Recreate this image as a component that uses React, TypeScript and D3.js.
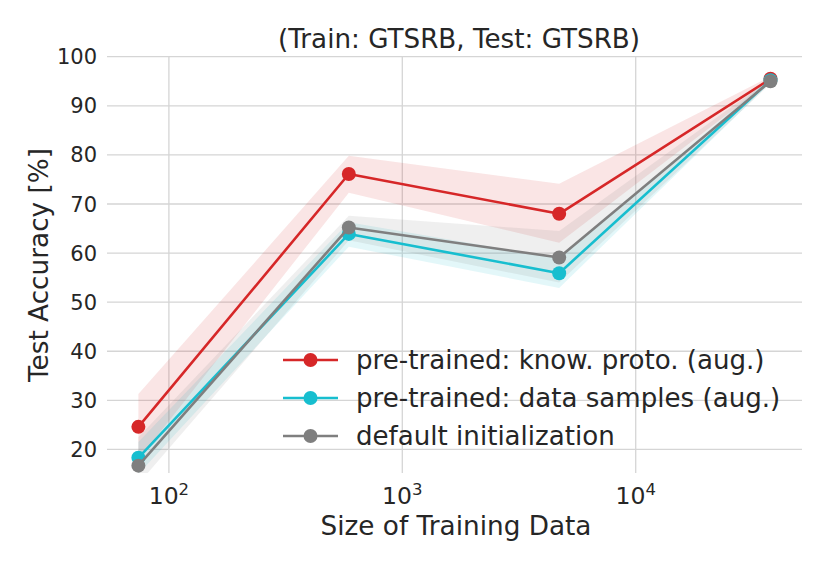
import * as React from 'react';
import { useEffect, useRef } from 'react';
import { select, scaleLog, scaleLinear, line, area } from 'd3';

// training set sizes (log axis)
const sizes = [74, 590, 4700, 37800];

const protoMean = [24.6, 76.1, 68.0, 95.5];
const protoLow = [17.9, 72.3, 62.1, 95.0];
const protoHigh = [31.3, 79.8, 74.1, 96.0];

const samplesMean = [18.3, 63.9, 55.9, 95.2];
const samplesLow = [15.0, 61.3, 52.9, 94.7];
const samplesHigh = [21.5, 66.3, 58.9, 95.7];

const defaultMean = [16.7, 65.2, 59.1, 95.0];
const defaultLow = [13.0, 62.6, 54.0, 94.5];
const defaultHigh = [22.5, 67.6, 64.5, 95.5];

const seriesNames = [
    'pre-trained: know. proto. (aug.)',
    'pre-trained: data samples (aug.)',
    'default initialization',
];
const seriesColors = ['#d62728', '#17becf', '#7f7f7f'];

const yTicks = [20, 30, 40, 50, 60, 70, 80, 90, 100];
const xTickExps = [2, 3, 4];

const W = 830;
const H = 571;
const FONT = 'DejaVu Sans, sans-serif';
const TEXT = '#262626';

export default function App() {
    const ref = useRef<SVGSVGElement>(null);

    useEffect(() => {
        const svg = select(ref.current);
        svg.selectAll('*').remove();

        const left = 107;
        const right = 802;
        const top = 56.7;
        const bottom = 473;

        const x = scaleLog().domain([54.3, 51580]).range([left, right]);
        const y = scaleLinear().domain([15.2, 100]).range([bottom, top]);

        svg.append('defs').append('clipPath').attr('id', 'plot')
            .append('rect')
            .attr('x', left).attr('y', top)
            .attr('width', right - left).attr('height', bottom - top);

        // grid
        const grid = svg.append('g').attr('stroke', '#d5d5d5').attr('stroke-width', 1.3);
        yTicks.forEach((t) => {
            grid.append('line')
                .attr('x1', left).attr('x2', right)
                .attr('y1', y(t)).attr('y2', y(t));
        });
        xTickExps.forEach((e) => {
            const v = Math.pow(10, e);
            grid.append('line')
                .attr('x1', x(v)).attr('x2', x(v))
                .attr('y1', top).attr('y2', bottom);
        });

        // tick labels
        yTicks.forEach((t) => {
            svg.append('text')
                .attr('x', 97)
                .attr('y', y(t))
                .attr('dy', '0.36em')
                .attr('text-anchor', 'end')
                .attr('font-family', FONT)
                .attr('font-size', 21)
                .attr('fill', TEXT)
                .text(String(t));
        });
        xTickExps.forEach((e) => {
            const tx = svg.append('text')
                .attr('x', x(Math.pow(10, e)))
                .attr('y', 504)
                .attr('text-anchor', 'middle')
                .attr('font-family', FONT)
                .attr('font-size', 23.5)
                .attr('fill', TEXT);
            tx.append('tspan').text('10');
            tx.append('tspan').attr('dy', -9).attr('font-size', 16.5).text(String(e));
        });

        const series = [
            { mean: protoMean, low: protoLow, high: protoHigh },
            { mean: samplesMean, low: samplesLow, high: samplesHigh },
            { mean: defaultMean, low: defaultLow, high: defaultHigh },
        ];

        const bands = svg.append('g').attr('clip-path', 'url(#plot)');
        series.forEach((s, k) => {
            const a = area<number>()
                .x((_, i) => x(sizes[i]))
                .y0((_, i) => y(s.low[i]))
                .y1((_, i) => y(s.high[i]));
            bands.append('path')
                .datum(s.mean)
                .attr('fill', seriesColors[k])
                .attr('fill-opacity', 0.12)
                .attr('d', a);
        });

        series.forEach((s, k) => {
            const ln = line<number>()
                .x((_, i) => x(sizes[i]))
                .y((d) => y(d));
            svg.append('path')
                .datum(s.mean)
                .attr('fill', 'none')
                .attr('stroke', seriesColors[k])
                .attr('stroke-width', 2.6)
                .attr('stroke-linejoin', 'round')
                .attr('d', ln);
            svg.append('g')
                .selectAll('circle')
                .data(s.mean)
                .join('circle')
                .attr('cx', (_, i) => x(sizes[i]))
                .attr('cy', (d) => y(d))
                .attr('r', 7)
                .attr('fill', seriesColors[k]);
        });

        // legend
        const lg = svg.append('g');
        seriesNames.forEach((name, k) => {
            const cy = 360 + k * 38;
            lg.append('line')
                .attr('x1', 283).attr('x2', 338)
                .attr('y1', cy).attr('y2', cy)
                .attr('stroke', seriesColors[k])
                .attr('stroke-width', 2.6);
            lg.append('circle')
                .attr('cx', 310.5).attr('cy', cy).attr('r', 7)
                .attr('fill', seriesColors[k]);
            lg.append('text')
                .attr('x', 356).attr('y', cy)
                .attr('dy', '0.36em')
                .attr('font-family', FONT)
                .attr('font-size', 26.1)
                .attr('fill', TEXT)
                .text(name);
        });

        // titles
        svg.append('text')
            .attr('x', 459).attr('y', 48.3)
            .attr('text-anchor', 'middle')
            .attr('font-family', FONT)
            .attr('font-size', 26.2)
            .attr('fill', TEXT)
            .text('(Train: GTSRB, Test: GTSRB)');

        svg.append('text')
            .attr('x', 456).attr('y', 535)
            .attr('text-anchor', 'middle')
            .attr('font-family', FONT)
            .attr('font-size', 26.3)
            .attr('fill', TEXT)
            .text('Size of Training Data');

        svg.append('text')
            .attr('transform', `translate(47.5, 265) rotate(-90)`)
            .attr('text-anchor', 'middle')
            .attr('font-family', FONT)
            .attr('font-size', 26.3)
            .attr('fill', TEXT)
            .text('Test Accuracy [%]');
    }, []);

    return (
        <svg
            ref={ref}
            width={W}
            height={H}
            style={{ position: 'absolute', left: 0, top: 0, background: '#fff' }}
        />
    );
}
